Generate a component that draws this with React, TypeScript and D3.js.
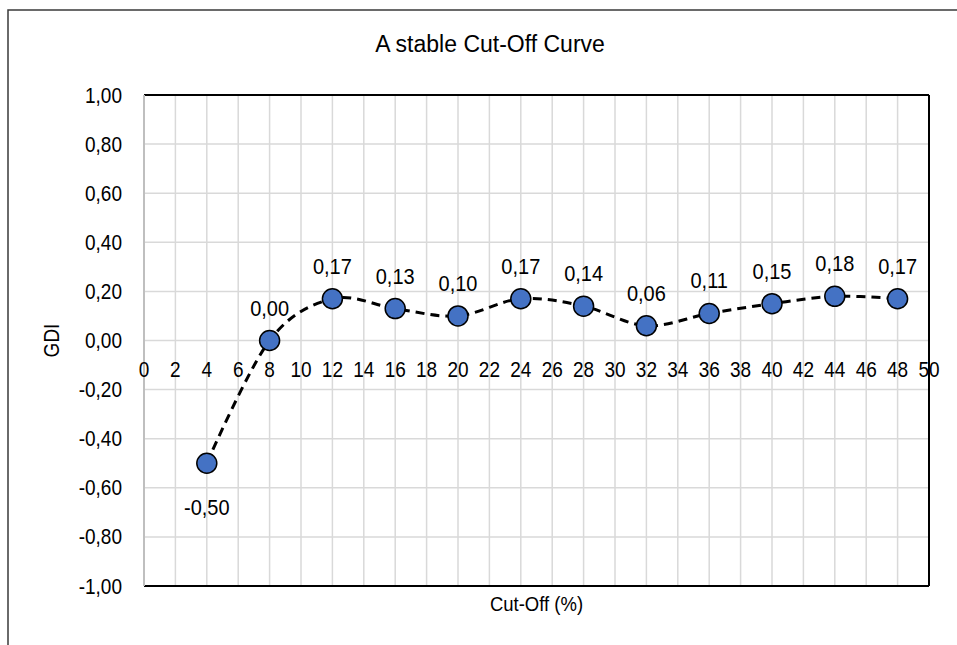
import React from "react";
import * as d3 from "d3";

const cutOff: number[] = [4, 8, 12, 16, 20, 24, 28, 32, 36, 40, 44, 48];
const gdi: number[] = [-0.5, 0.0, 0.17, 0.13, 0.1, 0.17, 0.14, 0.06, 0.11, 0.15, 0.18, 0.17];
const xTicks: number[] = d3.range(0, 51, 2);
const yTicks: number[] = d3.range(-1, 1.0001, 0.2).map((v) => Math.round(v * 10) / 10);

const W = 957;
const H = 645;
const left = 144;
const right = 929;
const top = 95;
const bottom = 586;
const font = "'Liberation Sans', Arial, sans-serif";
const SY = 1.13;

const fmt = (v: number) => v.toFixed(2).replace(".", ",");

function Txt(props: { x: number; y: number; size: number; anchor?: string; rotate?: number; children: React.ReactNode }) {
  const { x, y, size, anchor = "middle", rotate = 0, children } = props;
  return (
    <text
      transform={`translate(${x},${y}) rotate(${rotate}) scale(1,${SY})`}
      textAnchor={anchor}
      fontFamily={font}
      fontSize={size}
      fill="#000"
    >
      {children}
    </text>
  );
}

export default function App() {
  const x = d3.scaleLinear().domain([0, 50]).range([left, right]);
  const y = d3.scaleLinear().domain([-1, 1]).range([bottom, top]);
  const pts: [number, number][] = cutOff.map((c, i) => [x(c), y(gdi[i])]);
  const line = d3.line().curve(d3.curveCardinal.tension(0))(pts) || "";

  return (
    <svg width={W} height={H} style={{ position: "absolute", left: 0, top: 0, background: "#fff" }}>
      <rect x={0} y={0} width={W} height={H} fill="#fff" />
      <rect x={8} y={10} width={W + 20} height={H + 20} fill="none" stroke="#3a3a3a" strokeWidth={1.5} />
      <text x={490} y={52} textAnchor="middle" fontFamily={font} fontSize={23} fill="#000">
        A stable Cut-Off Curve
      </text>
      {xTicks.map((t) => (
        <line key={"gx" + t} x1={x(t)} x2={x(t)} y1={top} y2={bottom} stroke="#d9d9d9" strokeWidth={1.5} />
      ))}
      {yTicks.map((t) => (
        <line key={"gy" + t} x1={left} x2={right} y1={y(t)} y2={y(t)} stroke="#d9d9d9" strokeWidth={1.5} />
      ))}
      <line x1={left} x2={right} y1={top} y2={top} stroke="#000" strokeWidth={2} />
      <line x1={right} x2={right} y1={top} y2={bottom} stroke="#000" strokeWidth={2} />
      <line x1={left} x2={right} y1={bottom} y2={bottom} stroke="#000" strokeWidth={2} />
      <line x1={left} x2={left} y1={top} y2={bottom} stroke="#bfbfbf" strokeWidth={2} />
      {yTicks.map((t) => (
        <Txt key={"ty" + t} x={122} y={y(t) + 7.5} size={19} anchor="end">
          {fmt(t)}
        </Txt>
      ))}
      {xTicks.map((t) => (
        <Txt key={"tx" + t} x={x(t)} y={377} size={19}>
          {String(t)}
        </Txt>
      ))}
      <path d={line} fill="none" stroke="#000" strokeWidth={3} strokeDasharray="9,6" />
      {pts.map((p, i) => (
        <circle key={"c" + i} cx={p[0]} cy={p[1]} r={10} fill="#4472c4" stroke="#000" strokeWidth={1.5} />
      ))}
      {pts.map((p, i) => (
        <Txt key={"l" + i} x={p[0]} y={gdi[i] < 0 ? p[1] + 52 : p[1] - 25} size={20}>
          {fmt(gdi[i])}
        </Txt>
      ))}
      <Txt x={(left + right) / 2} y={611} size={18.5}>
        Cut-Off (%)
      </Txt>
      <Txt x={59} y={(top + bottom) / 2} size={19} rotate={-90}>
        GDI
      </Txt>
    </svg>
  );
}
